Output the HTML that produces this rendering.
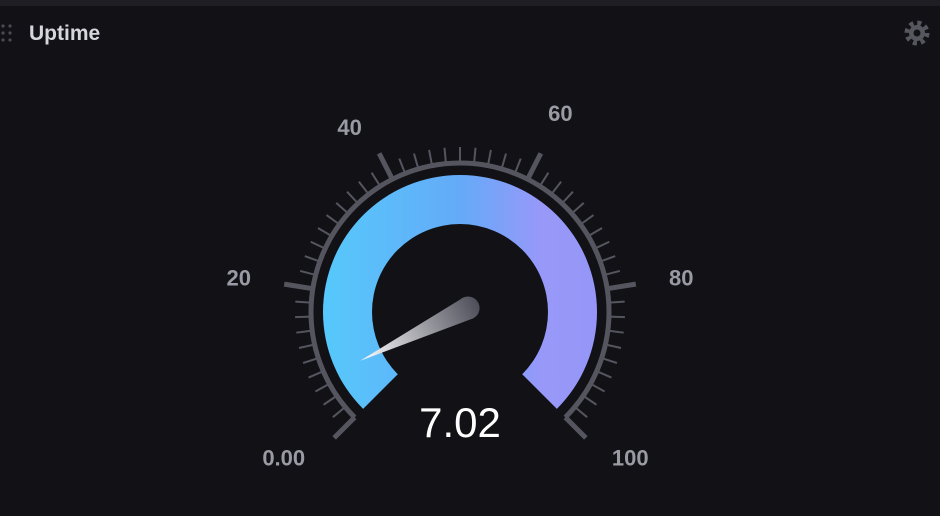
<!DOCTYPE html>
<html><head><meta charset="utf-8"><style>
body{margin:0;background:#111116;width:940px;height:516px;overflow:hidden;font-family:"Liberation Sans",sans-serif}
</style></head><body>
<div style="position:absolute;left:0;top:0;width:940px;height:6px;background:#1e1e24"></div>
<svg width="940" height="516" style="position:absolute;left:0;top:0">
<defs><linearGradient id="bg" x1="323" x2="597" y1="0" y2="0" gradientUnits="userSpaceOnUse">
<stop offset="0" stop-color="#56c9fb"/><stop offset="0.5" stop-color="#64aaf8"/><stop offset="0.8" stop-color="#9898f9"/><stop offset="1" stop-color="#9696f8"/></linearGradient>
<linearGradient id="ng" gradientUnits="userSpaceOnUse"><stop offset="0" stop-color="#ffffff"/><stop offset="1" stop-color="#4e4e5a"/></linearGradient></defs>
<g fill="#4a4a52">
<circle cx="3" cy="26" r="1.6"/><circle cx="10" cy="26" r="1.6"/><circle cx="3" cy="33" r="1.6"/><circle cx="10" cy="33" r="1.6"/><circle cx="3" cy="40" r="1.6"/><circle cx="10" cy="40" r="1.6"/></g>
<text x="29" y="40" font-size="21" font-weight="bold" fill="#d6d6de">Uptime</text>
<g transform="translate(917,33)">
<circle r="10" fill="none" stroke="#56565e" stroke-width="5" stroke-dasharray="4 3.85"/><circle r="8" fill="#56565e"/><circle r="3.5" fill="#111116"/></g>
<g id="g"></g>
<text x="460" y="437" font-size="42" fill="#fff" text-anchor="middle" id="val"></text>
</svg>
<script>
const value = 7.02;
const tickLabels = ["0.00","20","40","60","80","100"];
const tickValues = [0,20,40,60,80,100];
const minV=0,maxV=100,cx=460,cy=312;
const nudgeX=[-20,-3,-10,0,3,14], nudgeY=[-11,0,12,-2,0,-11];
const NS="http://www.w3.org/2000/svg",g=document.getElementById('g');
function ang(v){return (-135+(v-minV)/(maxV-minV)*270)*Math.PI/180;}
function pt(v,r){const a=ang(v);return [cx+Math.sin(a)*r,cy-Math.cos(a)*r];}
function mk(t,at){const e=document.createElementNS(NS,t);for(const k in at)e.setAttribute(k,at[k]);g.appendChild(e);return e;}
function arc(r0,r1){const a=pt(minV,r1),b=pt(maxV,r1),c=pt(maxV,r0),d=pt(minV,r0);
return `M${a} A${r1} ${r1} 0 1 1 ${b} L${c} A${r0} ${r0} 0 1 0 ${d}Z`;}
let band=mk('path',{d:arc(88,137),fill:'url(#bg)'});


let ring=mk('path',{d:`M${pt(minV,149)} A149 149 0 1 1 ${pt(maxV,149)}`,fill:'none',stroke:'#55555f','stroke-width':5});


for(let v=minV;v<=maxV;v+=2){const maj=tickValues.includes(v);const a=pt(v,149),b=pt(v,maj?178:165);
let l=mk('line',{x1:a[0],y1:a[1],x2:b[0],y2:b[1],stroke:'#55555f','stroke-width':maj?5:2});

}
tickValues.forEach((v,i)=>{const p=pt(v,221);
let t=mk('text',{x:p[0]+nudgeX[i],y:p[1]+8+nudgeY[i],'text-anchor':'middle','font-size':22,'font-weight':'bold',fill:'#9a9aa4'});
t.textContent=tickLabels[i];

});
const a=ang(value),dx=Math.sin(a),dy=-Math.cos(a),px=-dy,py=dx;
const tip=[cx+dx*111,cy+dy*111],hb=[cx-dx*9,cy-dy*9],hr=11.5;
const gr=document.getElementById('ng');
gr.setAttribute('x1',tip[0]);gr.setAttribute('y1',tip[1]);gr.setAttribute('x2',hb[0]-dx*hr);gr.setAttribute('y2',hb[1]-dy*hr);
const n=mk('path',{d:`M${tip} L${hb[0]+px*hr},${hb[1]+py*hr} L${hb[0]-px*hr},${hb[1]-py*hr} Z`,fill:'url(#ng)'});


const h=mk('circle',{cx:hb[0],cy:hb[1],r:hr,fill:'url(#ng)'});


document.getElementById('val').textContent=value.toFixed(2);
</script>
</body></html>
